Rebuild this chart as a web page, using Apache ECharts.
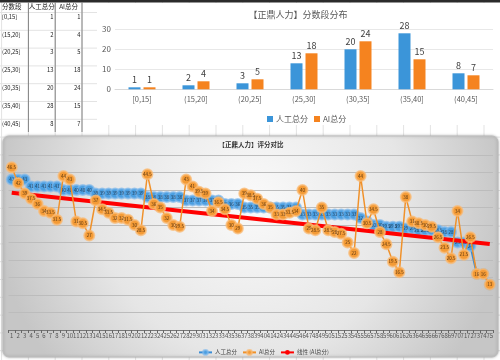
<!DOCTYPE html>
<html><head><meta charset="utf-8">
<script src="https://cdn.jsdelivr.net/npm/echarts@6/dist/echarts.min.js"></script>
<style>html,body{margin:0;padding:0;background:#fff}#c{width:500px;height:360px}</style>
</head><body><div id="c"></div>
<script>
// ---- data ----
const bins = ['[0,15]','(15,20]','(20,25]','(25,30]','(30,35]','(35,40]','(40,45]'];
const humanCounts = [1,2,3,13,20,28,8];
const aiCounts = [1,4,5,18,24,15,7];
const tableHeader = ['分数段','人工总分','AI总分'];
const barTitle = '【正鼎人力】分数段分布';
const lineTitle = '【正鼎人力】评分对比';
const humanScores = [43,43,43,41,41,41,41,41,40,40,40,40,40,39,39,39,39,39,39,39,39,38,38,38,38,38,38,37,37,37,37,37,37,36,36,36,35,35,35,35,35,35,35,35,35,33,33,33,33,33,33,33,33,33,32,31,30,30,29.5,29.5,29.5,29,29,28.5,28.5,28.5,28.5,28,28,25,25,24,16,16,13];
const aiScores = [46.5,42,39,37.5,36,34,33.5,31.5,44,43,31,30.5,27,37,34.5,33.5,32,32,31.5,30,28.5,44.5,36,35,32,30,29.5,43,41,39.5,39,34,36.5,34.5,30,29,39,38.5,37.5,36,35,33,33,33.5,34,40,29,28.5,35,28.5,28,27.5,25,22,44,30.5,34.5,28,24.5,19.5,16.5,38,31,30.5,30,29.5,26.5,23.5,20.5,34,21.5,26.5,16,16,13];
const trendEnds = [39.2, 24.6];
const seqLabels = humanScores.map((_, i) => String(i + 1));

// ---- background graphics ----
const G = [];
for (let k = 0; k < 19; k++) { const x = 1.6 + k * 26.8; G.push({type:'line', z:-10, silent:true, shape:{x1:x,y1:0,x2:x,y2:360}, style:{stroke:'#e3e3e3', lineWidth:1}}); }
for (let k = 0; k < 20; k++) { const y = 12.5 + k * 17.8; G.push({type:'line', z:-10, silent:true, shape:{x1:0,y1:y,x2:500,y2:y}, style:{stroke:'#e3e3e3', lineWidth:1}}); }
G.push({type:'rect', z:-9, silent:true, shape:{x:0,y:0,width:500,height:2.5}, style:{fill:'#2b2b2b'}});
G.push({type:'rect', z:-9, silent:true, shape:{x:97,y:3,width:403,height:122}, style:{fill:'#ffffff'}});
G.push({type:'rect', z:-9, silent:true, shape:{x:3,y:136,width:495,height:221,r:6},
  style:{fill:new echarts.graphic.RadialGradient(0.5,0.3,1.15,[{offset:0,color:'#fafafa'},{offset:0.6,color:'#e6e6e6'},{offset:1,color:'#c6c6c6'}]),
  stroke:'#bdbdbd', lineWidth:1, shadowBlur:3, shadowColor:'rgba(0,0,0,0.25)'}});
// table lines
[28.4,55.2,82].forEach(x => G.push({type:'line', z:-8, silent:true, shape:{x1:x,y1:2.5,x2:x,y2:132}, style:{stroke:'#808080', lineWidth:1}}));
// table text
const rowTop = k => 12.5 + k * 17.8;
const tf = '"Noto Sans CJK SC", sans-serif';
G.push({type:'text', z:5, style:{text:tableHeader[0], x:2, y:7, font:'6.5px '+tf, fill:'#222', verticalAlign:'middle'}});
G.push({type:'text', z:5, style:{text:tableHeader[1], x:41.8, y:7, font:'6.5px '+tf, fill:'#222', align:'center', verticalAlign:'middle'}});
G.push({type:'text', z:5, style:{text:tableHeader[2], x:68.6, y:7, font:'6.5px '+tf, fill:'#222', align:'center', verticalAlign:'middle'}});
bins.forEach((b, k) => {
  const y = rowTop(k) + 4;
  G.push({type:'text', z:5, style:{text:b, x:2, y:y, font:'5.8px '+tf, fill:'#222', verticalAlign:'middle'}});
  G.push({type:'text', z:5, style:{text:String(humanCounts[k]), x:53.5, y:y, font:'5.8px '+tf, fill:'#222', align:'right', verticalAlign:'middle'}});
  G.push({type:'text', z:5, style:{text:String(aiCounts[k]), x:80.5, y:y, font:'5.8px '+tf, fill:'#222', align:'right', verticalAlign:'middle'}});
});
// titles
G.push({type:'text', z:5, style:{text:barTitle, x:298, y:15, font:'9px '+tf, fill:'#595959', align:'center', verticalAlign:'middle'}});
G.push({type:'text', z:5, style:{text:lineTitle, x:251, y:145, font:'bold 6.5px '+tf, fill:'#333', align:'center', verticalAlign:'middle'}});

const blue = '#3b95d9', orange = '#f5831f';
const chart = echarts.init(document.getElementById('c'), null, {renderer:'canvas'});
chart.setOption({
  animation:false,
  textStyle:{fontFamily:'"Noto Sans CJK SC", Roboto, sans-serif'},
  graphic:{elements:G},
  legend:[
    {data:['bar:人工总分','bar:AI总分'], formatter:n => n.replace('bar:',''), left:262, top:110, icon:'rect', itemWidth:6, itemHeight:6, itemGap:6,
     textStyle:{fontSize:8, color:'#595959', padding:[0,0,0,-2]}},
    {data:['人工总分','AI总分','线性 (AI总分)'], left:193, top:344, itemWidth:13, itemHeight:6, itemGap:5,
     textStyle:{fontSize:5.5, color:'#444', padding:[0,0,0,-2]}}
  ],
  grid:[
    {left:115, right:7, top:29.3, height:60},
    {left:8.5, right:7, top:155, height:175}
  ],
  xAxis:[
    {gridIndex:0, type:'category', data:bins, axisLine:{lineStyle:{color:'#d9d9d9'}}, axisTick:{show:false},
     axisLabel:{color:'#595959', fontSize:7.5, margin:6}},
    {gridIndex:1, type:'category', data:seqLabels, boundaryGap:true, axisLine:{lineStyle:{color:'#777'}},
     axisTick:{show:true, length:3, interval:0, lineStyle:{color:'#666'}},
     axisLabel:{interval:0, fontSize:6, color:'#555', margin:3, hideOverlap:false}}
  ],
  yAxis:[
    {gridIndex:0, type:'value', min:0, max:30, interval:10, axisLine:{show:false}, axisTick:{show:false},
     axisLabel:{fontSize:8, color:'#595959', margin:4}, splitLine:{lineStyle:{color:'#e8e8e8'}}},
    {gridIndex:1, type:'value', min:0, max:50, interval:5, axisLine:{show:false}, axisTick:{show:false},
     axisLabel:{show:false}, splitLine:{lineStyle:{color:'#bcbcbc'}}}
  ],
  series:[
    {name:'bar:人工总分', type:'bar', xAxisIndex:0, yAxisIndex:0, data:humanCounts, barWidth:12, barGap:'25%',
     itemStyle:{color:blue}, label:{show:true, position:'top', distance:3, fontSize:9, color:'#404040'}},
    {name:'bar:AI总分', type:'bar', xAxisIndex:0, yAxisIndex:0, data:aiCounts, barWidth:12, barGap:'25%',
     itemStyle:{color:orange}, label:{show:true, position:'top', distance:3, fontSize:9, color:'#404040'}},
    {name:'人工总分', type:'line', xAxisIndex:1, yAxisIndex:1, data:humanScores, z:2,
     symbol:'circle', symbolSize:10, lineStyle:{color:'#3a8dd6', width:2},
     itemStyle:{color:'#4b9fe1', borderColor:'rgba(130,185,235,0.7)', borderWidth:2},
     label:{show:true, position:'inside', fontSize:4.5, color:'#1d3954'}},
    {name:'线性 (AI总分)', type:'line', xAxisIndex:1, yAxisIndex:1, data:[[0,trendEnds[0]],[humanScores.length-1,trendEnds[1]]], z:3,
     symbol:'none', lineStyle:{color:'#ff0000', width:4}, itemStyle:{color:'#ff0000'}},
    {name:'AI总分', type:'line', xAxisIndex:1, yAxisIndex:1, data:aiScores, z:4,
     symbol:'circle', symbolSize:10, lineStyle:{color:'#f0912a', width:1.5},
     itemStyle:{color:'#f49b36', borderColor:'rgba(250,185,115,0.75)', borderWidth:2},
     label:{show:true, position:'inside', fontSize:4.5, color:'#5a3510'}}
  ]
});
</script></body></html>
